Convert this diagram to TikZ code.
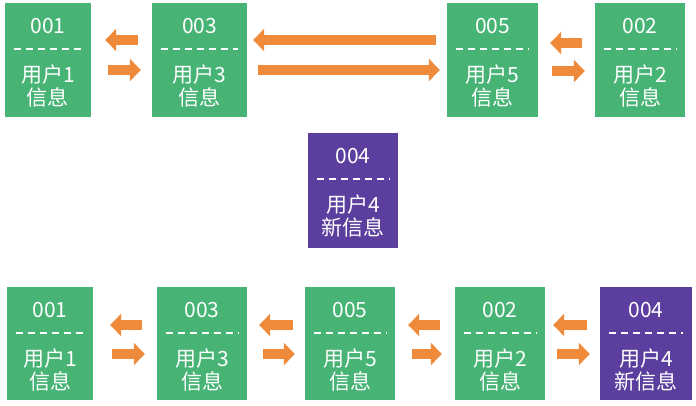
\documentclass[tikz,border=0pt]{standalone}
\usepackage{fontspec}
\setmainfont{Noto Sans CJK SC}
\usetikzlibrary{arrows.meta}
\definecolor{boxgreen}{HTML}{47B475}
\definecolor{boxpurple}{HTML}{5B3E9E}
\definecolor{arrowc}{HTML}{F08A3B}
\tikzset{
  ubx/.style={rectangle, inner sep=0pt, draw=none},
  idtext/.style={text=white, font=\fontsize{21}{23}\selectfont, inner sep=0pt},
  cjktext/.style={text=white, font=\fontsize{21}{23}\selectfont, inner sep=0pt},
  sepline/.style={draw=white, line width=1.8pt, dash pattern=on 7pt off 5pt},
  barrow/.style={draw=arrowc, line width=10pt, -{Triangle[width=22pt,length=11pt]}},
}
% name, cx, cy, w, h, colour, id, line1, line2
\newcommand\ubox[9]{%
  \node[ubx, fill=#6, minimum width=#4pt, minimum height=#5pt] (#1) at (#2,#3) {};
  \node[idtext] (#1-id) at ([yshift=-23pt]#1.north) {#7};
  \coordinate (#1-sl) at ([xshift=9pt,yshift=-46pt]#1.north west);
  \coordinate (#1-sr) at ([xshift=-9pt,yshift=-46pt]#1.north east);
  \draw[sepline] (#1-sl) -- (#1-sr);
  \node[cjktext] (#1-l1) at ([yshift=-72pt]#1.north) {#8};
  \node[cjktext] (#1-l2) at ([yshift=-95pt]#1.north) {#9};
}
\begin{document}
\begin{tikzpicture}[x=1pt,y=-1pt]
\useasboundingbox[fill=white] (0,0) rectangle (696,405);
% top row
\ubox{ta}{48}{60}{86}{114}{boxgreen}{001}{用户1}{信息}
\ubox{tc}{199.5}{60}{95}{114}{boxgreen}{003}{用户3}{信息}
\ubox{te}{492.5}{60}{91}{114}{boxgreen}{005}{用户5}{信息}
\ubox{tb}{640}{60}{90}{114}{boxgreen}{002}{用户2}{信息}
% middle
\ubox{m}{353}{190.5}{90}{115}{boxpurple}{004}{用户4}{新信息}
% bottom row
\ubox{ba}{50}{343.5}{86}{113}{boxgreen}{001}{用户1}{信息}
\ubox{bc}{202}{343.5}{90}{113}{boxgreen}{003}{用户3}{信息}
\ubox{be}{350}{343.5}{90}{113}{boxgreen}{005}{用户5}{信息}
\ubox{bb}{500}{343.5}{90}{113}{boxgreen}{002}{用户2}{信息}
\ubox{bd}{646}{343.5}{92}{113}{boxpurple}{004}{用户4}{新信息}
% top arrows
\draw[barrow, shorten <=14pt, shorten >=14pt] ([yshift=20pt]tc.west) -- ([yshift=20pt]ta.east);
\draw[barrow, shorten <=17pt, shorten >=11pt] ([yshift=-10pt]ta.east) -- ([yshift=-10pt]tc.west);
\draw[barrow, shorten <=11pt, shorten >=6pt] ([yshift=20pt]te.west) -- ([yshift=20pt]tc.east);
\draw[barrow, shorten <=11pt, shorten >=7pt] ([yshift=-10pt]tc.east) -- ([yshift=-10pt]te.west);
\draw[barrow, shorten <=13pt, shorten >=12pt] ([yshift=17pt]tb.west) -- ([yshift=17pt]te.east);
\draw[barrow, shorten <=14pt, shorten >=10pt] ([yshift=-11pt]te.east) -- ([yshift=-11pt]tb.west);
% bottom arrows
\draw[barrow, shorten <=15pt, shorten >=17pt] ([yshift=18.5pt]bc.west) -- ([yshift=18.5pt]ba.east);
\draw[barrow, shorten <=19pt, shorten >=12pt] ([yshift=-10.5pt]ba.east) -- ([yshift=-10.5pt]bc.west);
\draw[barrow, shorten <=12pt, shorten >=12pt] ([yshift=18.5pt]be.west) -- ([yshift=18.5pt]bc.east);
\draw[barrow, shorten <=16pt, shorten >=10pt] ([yshift=-10.5pt]bc.east) -- ([yshift=-10.5pt]be.west);
\draw[barrow, shorten <=15pt, shorten >=13pt] ([yshift=18.5pt]bb.west) -- ([yshift=18.5pt]be.east);
\draw[barrow, shorten <=17pt, shorten >=13pt] ([yshift=-10.5pt]be.east) -- ([yshift=-10.5pt]bb.west);
\draw[barrow, shorten <=13pt, shorten >=8pt] ([yshift=18.5pt]bd.west) -- ([yshift=18.5pt]bb.east);
\draw[barrow, shorten <=12pt, shorten >=10pt] ([yshift=-10.5pt]bb.east) -- ([yshift=-10.5pt]bd.west);
\end{tikzpicture}
\end{document}
